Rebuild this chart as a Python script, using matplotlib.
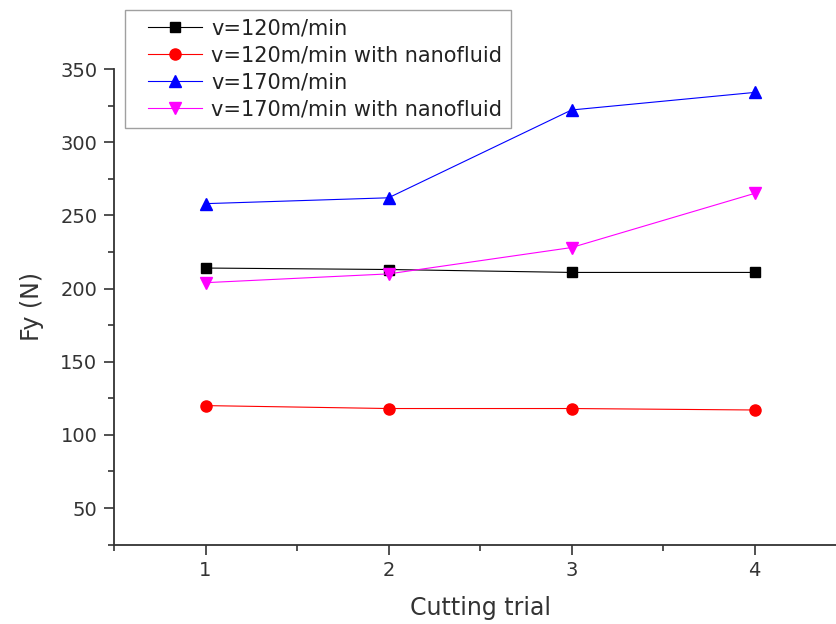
import matplotlib
matplotlib.use("Agg")
import matplotlib.pyplot as plt
from matplotlib.ticker import MultipleLocator
from matplotlib.legend_handler import HandlerLine2D

plt.rcParams['font.family'] = ['DejaVu Sans']

trials = [1, 2, 3, 4]
v120 = [214, 213, 211, 211]
v120_nano = [120, 118, 118, 117]
v170 = [258, 262, 322, 334]
v170_nano = [204, 210, 228, 265]

labels = ["v=120m/min", "v=120m/min with nanofluid",
          "v=170m/min", "v=170m/min with nanofluid"]

fig = plt.figure(figsize=(8.37, 6.24), dpi=100)
ax = fig.add_axes([0.1362, 0.1272, 0.8746, 0.7622])

l1, = ax.plot(trials, v120, color='black', marker='s', ms=7.5, lw=0.8, label=labels[0])
l2, = ax.plot(trials, v120_nano, color='red', marker='o', ms=8, lw=0.8, label=labels[1])
l3, = ax.plot(trials, v170, color='blue', marker='^', ms=9, lw=0.8, label=labels[2])
l4, = ax.plot(trials, v170_nano, color='magenta', marker='v', ms=9, lw=0.8, label=labels[3])

ax.set_xlim(0.5, 4.5)
ax.set_ylim(25, 350)
ax.xaxis.set_major_locator(MultipleLocator(1))
ax.xaxis.set_minor_locator(MultipleLocator(0.5))
ax.yaxis.set_minor_locator(MultipleLocator(25))
ax.set_yticks([50, 100, 150, 200, 250, 300, 350])

for s in ['top', 'right']:
    ax.spines[s].set_visible(False)
for s in ['left', 'bottom']:
    ax.spines[s].set_color('#333333')
    ax.spines[s].set_linewidth(1.3)

ax.tick_params(which='major', direction='out', length=7, width=1.2, colors='#333333',
               labelsize=14, labelcolor='#333333', pad=5)
ax.tick_params(which='minor', direction='out', length=4, width=1.2, colors='#333333')

ax.set_xlabel("Cutting trial", fontsize=17, color='#333333', labelpad=11)
ax.set_ylabel("Fy (N)", fontsize=17, color='#333333', labelpad=12)

h = HandlerLine2D(xpad=0.7)
leg = fig.legend(handles=[l1, l2, l3, l4], loc='upper left',
                 bbox_to_anchor=(0.149, 0.984), fontsize=15,
                 frameon=True, fancybox=False, edgecolor='#888888',
                 handlelength=3.3, handletextpad=0.45, borderpad=0.4,
                 labelspacing=0.34, borderaxespad=0,
                 handler_map={l1: h, l2: h, l3: h, l4: h})
leg.get_frame().set_linewidth(1.0)
for t in leg.get_texts():
    t.set_color('#222222')

fig.savefig("out.png", dpi=100)
